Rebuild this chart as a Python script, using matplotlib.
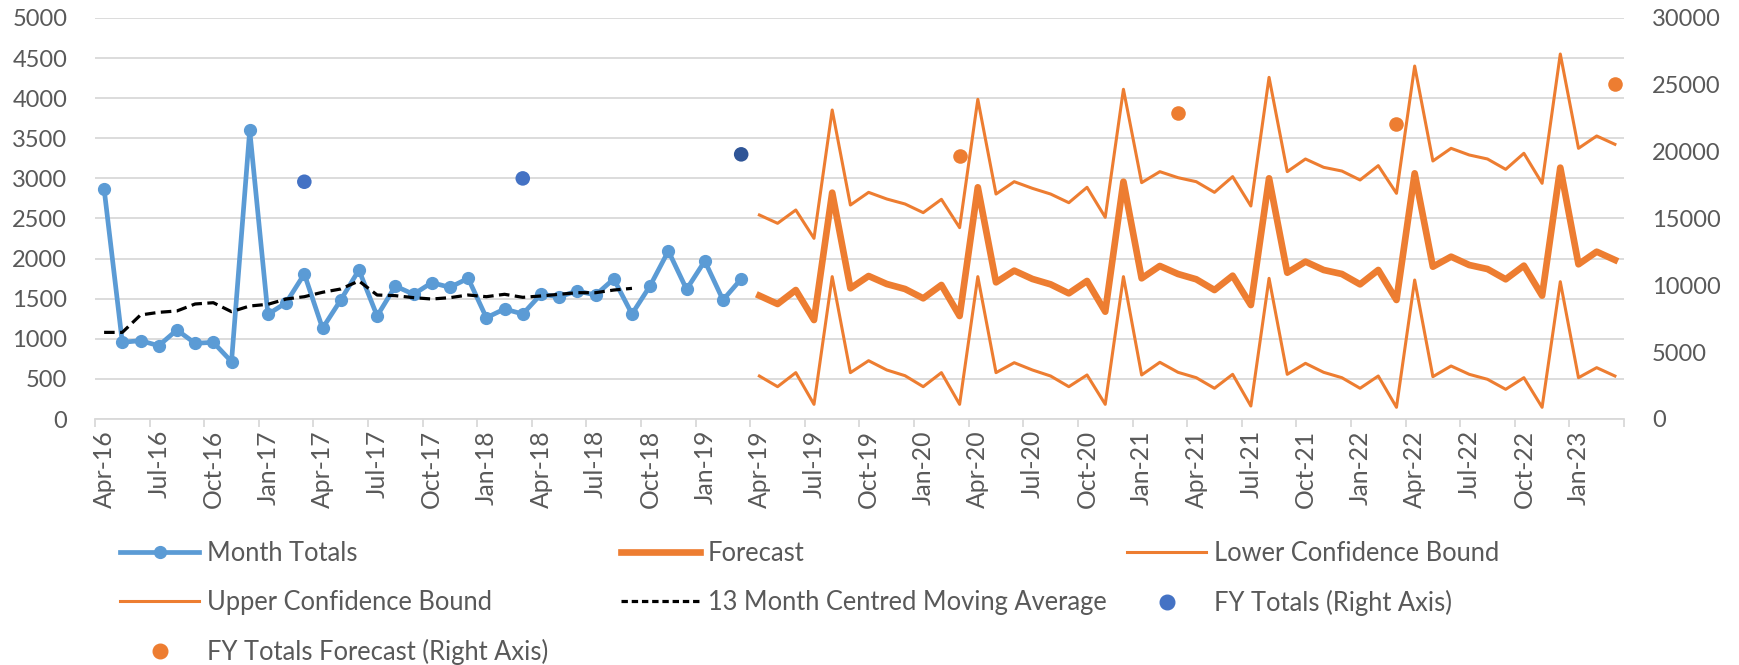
import matplotlib
matplotlib.use("Agg")
import matplotlib.pyplot as plt
from matplotlib.lines import Line2D
import numpy as np

plt.rcParams['font.family'] = ['Lato', 'DejaVu Sans']

# ---------------- data ----------------
tick_labels = ['Apr-16', 'Jul-16', 'Oct-16', 'Jan-17', 'Apr-17', 'Jul-17', 'Oct-17',
               'Jan-18', 'Apr-18', 'Jul-18', 'Oct-18', 'Jan-19', 'Apr-19', 'Jul-19',
               'Oct-19', 'Jan-20', 'Apr-20', 'Jul-20', 'Oct-20', 'Jan-21', 'Apr-21',
               'Jul-21', 'Oct-21', 'Jan-22', 'Apr-22', 'Jul-22', 'Oct-22', 'Jan-23']
n_months = 84

month_totals = [2870, 956, 977, 914, 1110, 944, 956, 715, 3600, 1305, 1450, 1808,
                1131, 1484, 1858, 1284, 1658, 1555, 1700, 1642, 1754, 1263, 1372, 1309,
                1555, 1525, 1596, 1546, 1746, 1309, 1662, 2095, 1617, 1970, 1484, 1746]

moving_avg = [1080, 1080, 1297, 1330, 1347, 1434, 1450, 1338, 1409, 1430, 1496, 1525,
              1580, 1621, 1721, 1546, 1538, 1513, 1496, 1513, 1546, 1525, 1555, 1517,
              1534, 1555, 1575, 1575, 1608, 1629]

forecast = [1538, 1434, 1608, 1234, 2822, 1629, 1783, 1683, 1621, 1505, 1671, 1284,
            2889, 1704, 1850, 1746, 1679, 1567, 1721, 1338, 2959, 1754, 1908, 1808,
            1742, 1608, 1787, 1421, 3001, 1824, 1962, 1858, 1808, 1679, 1858, 1484,
            3063, 1899, 2024, 1920, 1870, 1742, 1912, 1538, 3134, 1929, 2086, 1983]

lower_bound = [536, 403, 578, 183, 1775, 578, 727, 611, 540, 403, 578, 183,
               1775, 578, 702, 611, 536, 403, 549, 183, 1775, 549, 707, 582,
               515, 383, 557, 162, 1754, 557, 694, 582, 515, 383, 536, 146,
               1733, 528, 661, 557, 495, 370, 515, 146, 1712, 515, 640, 536]

upper_bound = [2544, 2440, 2606, 2253, 3853, 2668, 2826, 2743, 2681, 2573, 2739, 2386,
               3986, 2805, 2959, 2876, 2805, 2697, 2889, 2515, 4111, 2947, 3084, 3009,
               2959, 2826, 3022, 2656, 4260, 3084, 3242, 3138, 3092, 2980, 3159, 2814,
               4401, 3217, 3375, 3292, 3242, 3113, 3313, 2939, 4551, 3375, 3529, 3425]

fy_totals = [17750, 18000, 19800]
fy_forecast = [19700, 22870, 22070, 25060]

# ---------------- positions ----------------
x_hist = np.arange(len(month_totals)) + 0.5
x_ma = np.arange(len(moving_avg)) + 0.5
x_fc = np.arange(len(month_totals), len(month_totals) + len(forecast)) + 0.5
x_fy = np.arange(11, 11 + 12 * len(fy_totals), 12) + 0.5
x_fyf = np.arange(47, 47 + 12 * len(fy_forecast), 12) + 0.5

BLUE = '#5B9BD5'
ORANGE = '#ED7D31'
FYBLUE = '#4472C4'
FYDARK = '#2F5597'
GRID = '#D9D9D9'
TXT = '#595959'
FS = 17
FS_X = 17.8
FS_LEG = 18.4

fig = plt.figure(figsize=(17.4, 6.65), dpi=100)
ax = fig.add_axes([95 / 1740, 1 - 419 / 665, (1624 - 95) / 1740, (419 - 18) / 665])
ax2 = ax.twinx()

ax.set_xlim(0, n_months)
ax.set_ylim(0, 5000)
ax2.set_ylim(0, 30000)
ax.set_yticks(np.arange(0, 5001, 500))
ax2.set_yticks(np.arange(0, 30001, 5000))

ax.grid(axis='y', color=GRID, linewidth=1.3)
ax.set_axisbelow(True)

for a in (ax, ax2):
    for s in ('top', 'left', 'right'):
        a.spines[s].set_visible(False)
    a.spines['bottom'].set_color(GRID)
    a.spines['bottom'].set_linewidth(1.3)
ax2.spines['bottom'].set_visible(False)

ax.tick_params(axis='y', length=0, pad=20, labelsize=FS, labelcolor=TXT)
ax2.tick_params(axis='y', length=0, pad=20, labelsize=FS, labelcolor=TXT)

ax.set_xticks(np.arange(0, n_months + 1, 3))
ax.set_xticklabels([])
ax.set_xticks(np.arange(0, n_months, 3) + 0.5, minor=True)
ax.set_xticklabels(tick_labels, minor=True, rotation=90)
ax.tick_params(axis='x', which='major', length=6, color=GRID, width=1.3)
ax.tick_params(axis='x', which='minor', length=0, pad=8, labelsize=FS_X, labelcolor=TXT)

# lines (left axis)
ax.plot(x_fc, lower_bound, color=ORANGE, lw=2.2, zorder=3)
ax.plot(x_fc, upper_bound, color=ORANGE, lw=2.2, zorder=3)
ax.plot(x_fc, forecast, color=ORANGE, lw=4.8, zorder=4, solid_joinstyle='round')
ax.plot(x_hist, month_totals, color=BLUE, lw=3.4, marker='o', ms=8.5, zorder=5)
ax.plot(x_ma, moving_avg, color='black', lw=2.3, dashes=(3.3, 1.7), zorder=6)

# FY points (right axis)
fy_colors = [FYBLUE, FYBLUE, FYDARK]
ax2.scatter(x_fy, fy_totals, s=110, color=fy_colors, zorder=5, linewidths=0)
ax2.scatter(x_fyf, fy_forecast, s=110, color=ORANGE, zorder=5, linewidths=0)

# legends (three columns)
h_month = Line2D([], [], color=BLUE, lw=3.4, marker='o', ms=8.5)
h_fc = Line2D([], [], color=ORANGE, lw=4.8)
h_low = Line2D([], [], color=ORANGE, lw=2.2)
h_up = Line2D([], [], color=ORANGE, lw=2.2)
h_ma = Line2D([], [], color='black', lw=2.3, dashes=(2.0, 1.2))
h_fy = Line2D([], [], color=FYBLUE, lw=0, marker='o', ms=10.5)
h_fyf = Line2D([], [], color=ORANGE, lw=0, marker='o', ms=10.5)

cols = [
    (120, [h_month, h_up, h_fyf], ['Month Totals', 'Upper Confidence Bound', 'FY Totals Forecast (Right Axis)']),
    (621, [h_fc, h_ma], ['Forecast', '13 Month Centred Moving Average']),
    (1127, [h_low, h_fy], ['Lower Confidence Bound', 'FY Totals (Right Axis)']),
]
for xpix, hs, ls in cols:
    leg = fig.legend(hs, ls, loc='upper left', bbox_to_anchor=(xpix / 1740, 1 - 541 / 665),
                     frameon=False, fontsize=FS_LEG, borderpad=0, borderaxespad=0,
                     handlelength=3.1, handletextpad=0.3, labelspacing=0.93, numpoints=1)
    for t in leg.get_texts():
        t.set_color(TXT)

fig.savefig('out.png', dpi=100)
